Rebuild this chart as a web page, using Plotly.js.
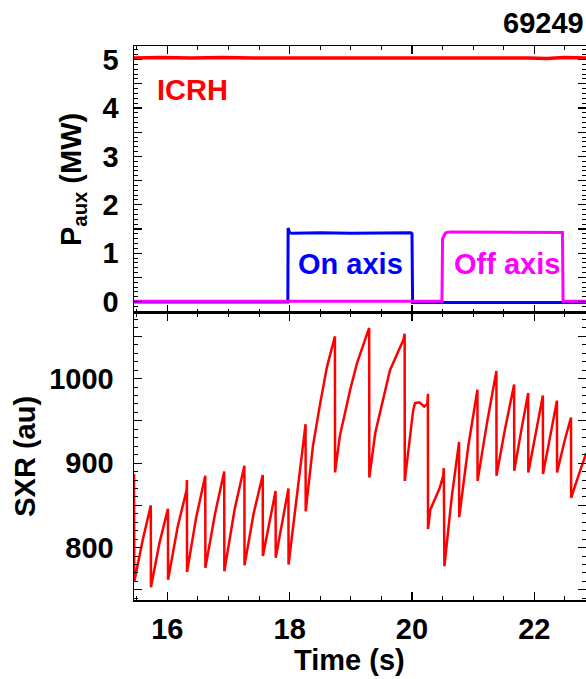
<!DOCTYPE html>
<html>
<head>
<meta charset="utf-8">
<script src="https://cdn.plot.ly/plotly-3.0.1.min.js"></script>
<style>html,body{margin:0;padding:0;background:#fff;}#plot{width:586px;height:679px;}</style>
</head>
<body>
<div id="plot"></div>
<script>
// ---- Data ----
const icrhTime  = [15.45, 15.9, 16.4, 16.9, 17.4, 17.9, 18.4, 18.9, 19.4, 19.9, 20.4, 20.9, 21.4, 21.9, 22.2, 22.5, 22.85];
const icrhPower = [5.03, 5.04, 5.03, 5.04, 5.03, 5.03, 5.04, 5.03, 5.03, 5.04, 5.03, 5.04, 5.03, 5.03, 5.02, 5.04, 5.03];

const onAxisTime  = [15.45, 17.97, 17.975, 18.0, 18.05, 18.5, 19.0, 19.5, 19.98, 20.0, 20.01, 22.85];
const onAxisPower = [-0.01, -0.01, 1.52, 1.42, 1.41, 1.42, 1.41, 1.42, 1.42, 1.4, -0.02, -0.02];

const offAxisTime  = [15.45, 20.49, 20.5, 20.55, 20.62, 21.0, 21.5, 22.0, 22.46, 22.47, 22.85];
const offAxisPower = [0.01, 0.01, 1.3, 1.42, 1.44, 1.44, 1.43, 1.43, 1.43, 0.01, 0.01];

const sxrTime = [15.455, 15.46, 15.60, 15.73, 15.732, 15.87, 16.01, 16.012, 16.17, 16.315, 16.32, 16.322,
  16.47, 16.62, 16.622, 16.78, 16.93, 16.932, 17.10, 17.26, 17.262, 17.41, 17.56, 17.562,
  17.67, 17.77, 17.772, 17.88, 17.98, 17.982, 18.12, 18.26, 18.262, 18.38, 18.50, 18.61, 18.74, 18.742,
  18.82, 18.99, 19.10, 19.30, 19.302, 19.40, 19.64, 19.86, 19.88, 19.882,
  20.02, 20.05, 20.12, 20.20, 20.25, 20.26, 20.262, 20.30, 20.45, 20.51, 20.52, 20.53,
  20.65, 20.77, 20.772, 20.92, 21.07, 21.072, 21.22, 21.38, 21.382, 21.52, 21.67, 21.672,
  21.79, 21.90, 21.902, 22.02, 22.14, 22.142, 22.26, 22.37, 22.372, 22.49, 22.60, 22.602, 22.72, 22.85];
const sxrValue = [887, 760, 810, 850, 753, 805, 846, 762, 825, 868, 880, 771,
  835, 885, 776, 840, 890, 772, 845, 897, 779, 840, 886, 790,
  830, 867, 788, 830, 870, 780, 865, 946, 843, 920, 971, 1014, 1050, 889,
  932, 987, 1018, 1060, 883, 936, 1010, 1046, 1053, 879,
  963, 971, 972, 967, 970, 982, 822, 845, 870, 885, 894, 778,
  860, 925, 836, 920, 987, 879, 945, 1009, 885, 940, 993, 891,
  940, 983, 889, 935, 980, 887, 930, 974, 889, 925, 954, 859, 885, 912];

const xTickVals = [16, 18, 20, 22];
const xTickText = ['16', '18', '20', '22'];
const topTickVals = [0, 0.5, 1, 1.5, 2, 2.5, 3, 3.5, 4, 4.5, 5];
const topTickText = ['0', '', '1', '', '2', '', '3', '', '4', '', '5'];
const botTickVals = [750, 800, 850, 900, 950, 1000, 1050];
const botTickText = ['', '800', '', '900', '', '1000', ''];

// ---- Plot ----
const FONT = 'Liberation Sans, Arial, Helvetica, sans-serif';
const FS = 29;
const F = (color) => ({family: FONT, size: FS, color: color || '#000', weight: 'bold'});

const traces = [
  {x: icrhTime, y: icrhPower, xaxis: 'x2', yaxis: 'y2', mode: 'lines', line: {color: '#ff0000', width: 3.5}, hoverinfo: 'skip'},
  {x: onAxisTime, y: onAxisPower, xaxis: 'x2', yaxis: 'y2', mode: 'lines', line: {color: '#0000ff', width: 3}, hoverinfo: 'skip'},
  {x: offAxisTime, y: offAxisPower, xaxis: 'x2', yaxis: 'y2', mode: 'lines', line: {color: '#ff00ff', width: 3}, hoverinfo: 'skip'},
  {x: sxrTime, y: sxrValue, xaxis: 'x', yaxis: 'y', mode: 'lines', line: {color: '#ff0000', width: 2.5}, hoverinfo: 'skip'}
];

const xCommon = {
  range: [15.455, 22.845], showline: true, linecolor: '#000', linewidth: 1.5, mirror: 'allticks',
  ticks: 'inside', ticklen: 8, tickwidth: 1.2, tickcolor: '#000', tickvals: xTickVals, ticktext: xTickText,
  minor: {dtick: 0.5, ticks: 'inside', ticklen: 4, tickcolor: '#000', tickwidth: 1, showgrid: false},
  showgrid: false, zeroline: false
};

const layout = {
  width: 586, height: 679,
  margin: {l: 134, r: 0, t: 46, b: 78.5},
  paper_bgcolor: '#fff', plot_bgcolor: '#fff',
  showlegend: false,
  font: F(),
  xaxis: Object.assign({}, xCommon, {anchor: 'y', tickfont: F(), ticklabelstandoff: 3}),
  xaxis2: Object.assign({}, xCommon, {anchor: 'y2', matches: 'x', showticklabels: false}),
  yaxis: {
    domain: [0, 0.5185], range: [738, 1078], showline: true, linecolor: '#000', linewidth: 1.5,
    mirror: 'allticks', ticks: 'inside', ticklen: 8, tickwidth: 1.2, tickcolor: '#000',
    tickvals: botTickVals, ticktext: botTickText, ticklabelstandoff: 13, tickfont: F(),
    minor: {dtick: 10, ticks: 'inside', ticklen: 4, tickcolor: '#000', tickwidth: 1, showgrid: false},
    showgrid: false, zeroline: false,
    title: {text: 'SXR (au)', font: F(), standoff: 5}
  },
  yaxis2: {
    domain: [0.5185, 1], range: [-0.23, 5.28], showline: true, linecolor: '#000', linewidth: 1.5,
    mirror: 'allticks', ticks: 'inside', ticklen: 8, tickwidth: 1.2, tickcolor: '#000',
    tickvals: topTickVals, ticktext: topTickText, ticklabelstandoff: 8, tickfont: F(),
    minor: {dtick: 0.1, ticks: 'inside', ticklen: 4, tickcolor: '#000', tickwidth: 1, showgrid: false},
    showgrid: false, zeroline: false,
    title: {text: 'P<sub>aux</sub> (MW)', font: F(), standoff: 12}
  },
  annotations: [
    {text: 'Time (s)', xref: 'paper', yref: 'paper', x: 0.3496, y: -0.109, xanchor: 'left', yanchor: 'middle',
     showarrow: false, font: F()},
    {text: '69249', xref: 'paper', yref: 'paper', x: 1, y: 1.0415, xanchor: 'right', yanchor: 'middle',
     showarrow: false, font: F()},
    {text: 'ICRH', xref: 'x2', yref: 'y2', x: 15.8, y: 4.37, xanchor: 'left', yanchor: 'middle',
     showarrow: false, font: F('#ff0000')},
    {text: 'On axis', xref: 'x2', yref: 'y2', x: 18.99, y: 0.78, xanchor: 'center', yanchor: 'middle',
     showarrow: false, font: F('#0000ff')},
    {text: 'Off axis', xref: 'x2', yref: 'y2', x: 21.55, y: 0.78, xanchor: 'center', yanchor: 'middle',
     showarrow: false, font: F('#ff00ff')}
  ]
};

Plotly.newPlot('plot', traces, layout, {staticPlot: true, displayModeBar: false});
</script>
</body>
</html>
